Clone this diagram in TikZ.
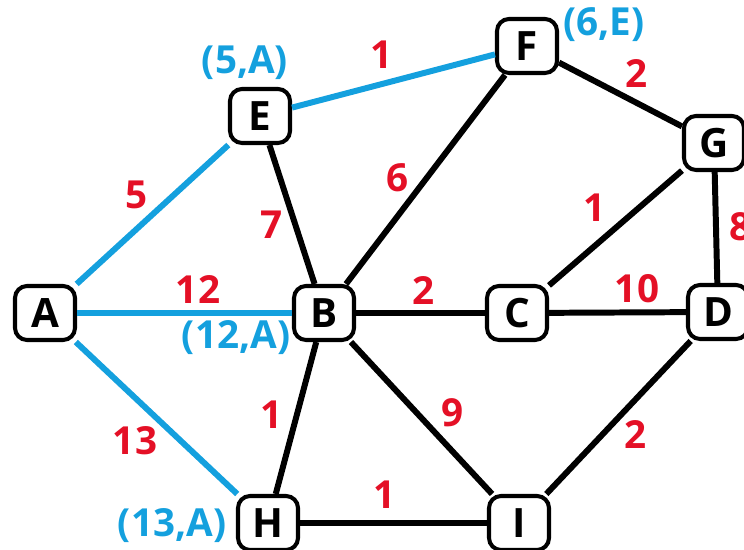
\documentclass[tikz,border=0pt]{standalone}
\usepackage{fontspec}
\setmainfont{Open Sans}
\usepackage{xcolor}
\usetikzlibrary{positioning, calc}
\definecolor{pathblue}{RGB}{20,160,222}
\definecolor{weightred}{RGB}{228,16,38}

\begin{document}
\begin{tikzpicture}[x=0.02cm, y=-0.02cm,
  vertex/.style={draw, line width=2.3pt, rounded corners=0.24cm, fill=white,
    minimum width=1.2cm, minimum height=1.08cm, font=\fontsize{23}{24}\selectfont\bfseries},
  edge/.style={line width=3.4pt, black},
  tree/.style={line width=3.4pt, pathblue},
  weight/.style={text=weightred, font=\fontsize{22}{24}\selectfont\bfseries},
  dist/.style={text=pathblue, font=\fontsize{22}{24}\selectfont\bfseries}]
  \useasboundingbox (0,0) rectangle (744,550);
  \clip (0,0) rectangle (744,550);

  % Vertices
  \node[vertex] (A) at (45,313) {A};
  \node[vertex] (E) at (260,116) {E};
  \node[vertex] (F) at (527,46) {F};
  \node[vertex] (G) at (714,143) {G};
  \node[vertex] (B) at (324,313) {B};
  \node[vertex] (C) at (517,313) {C};
  \node[vertex] (D) at (718,312) {D};
  \node[vertex] (H) at (268,523) {H};
  \node[vertex] (I) at (519,523) {I};

  % Edges found so far
  \draw[tree] (A) -- (E);
  \draw[tree] (E) -- (F);
  \draw[tree] (A) -- (B);
  \draw[tree] (A) -- (H);

  % Remaining edges
  \draw[edge] (E) -- (B);
  \draw[edge] (F) -- (B);
  \draw[edge] (F) -- (G);
  \draw[edge] (G) -- (C);
  \draw[edge] (G) -- (D);
  \draw[edge] (B) -- (C);
  \draw[edge] (C) -- (D);
  \draw[edge] (B) -- (H);
  \draw[edge] (B) -- (I);
  \draw[edge] (H) -- (I);
  \draw[edge] (D) -- (I);

  % Weights
  \node[weight] (wAE) at (137,195) {5};
  \node[weight] (wEF) at (382,55) {1};
  \node[weight] (wFG) at (637,74) {2};
  \node[weight] (wFB) at (398,178) {6};
  \node[weight] (wEB) at (272,225) {7};
  \node[weight] (wGC) at (595,208) {1};
  \node[weight] (wGD) at (741,227) {8};
  \node[weight] (wAB) at (198,290) {12};
  \node[weight] (wBC) at (424,291) {2};
  \node[weight] (wCD) at (637,289) {10};
  \node[weight] (wBH) at (272,415) {1};
  \node[weight] (wBI) at (453,413) {9};
  \node[weight] (wDI) at (636,435) {2};
  \node[weight] (wHI) at (385,495) {1};
  \node[weight] (wAH) at (135,441) {13};

  % Distance labels
  \node[dist] (dE) at (245,63) {(5,A)};
  \node[dist] (dF) at (604,25) {(6,E)};
  \node[dist] (dB) at (236,338) {(12,A)};
  \node[dist] (dH) at (172,526) {(13,A)};
\end{tikzpicture}
\end{document}
